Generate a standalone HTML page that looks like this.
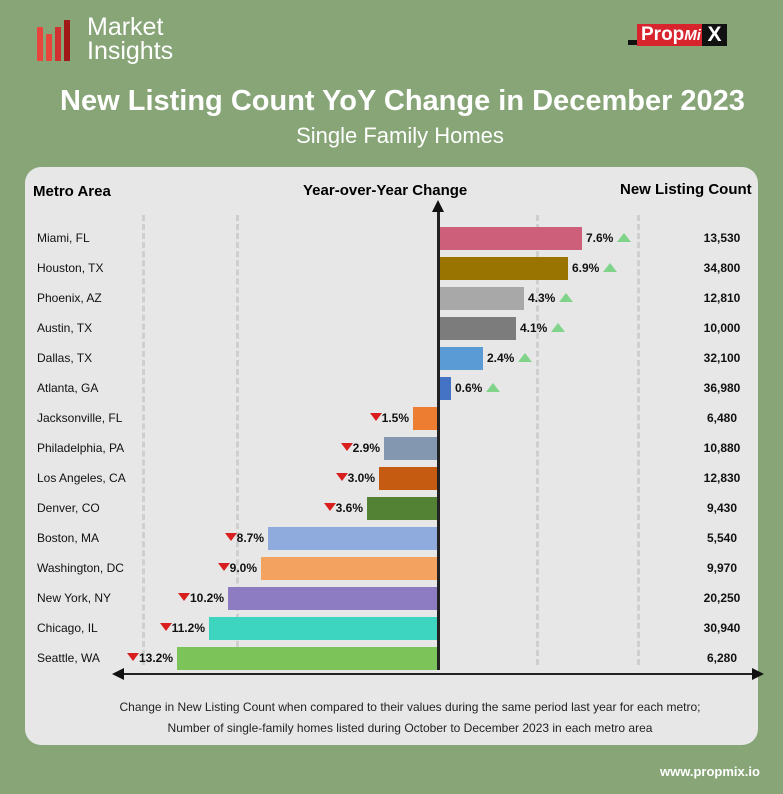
<!DOCTYPE html>
<html><head><meta charset="utf-8"><style>
*{margin:0;padding:0;box-sizing:border-box}
body{width:783px;height:794px;background:#88a577;font-family:"Liberation Sans",sans-serif;position:relative;overflow:hidden}
.a{position:absolute}
.panel{left:25px;top:167px;width:733px;height:578px;background:#e6e7e6;border-radius:16px}
.name{left:37px;font-size:12px;color:#111}
.cnt{left:692px;width:60px;text-align:center;font-size:12px;font-weight:bold;color:#111}
.bar{height:23px}
.pct{font-size:12px;font-weight:bold;color:#111}
.dash{width:0;border-left:3px dashed #cfcfcf}
</style></head><body>
<div class="a" style="left:37px;top:27px;width:6px;height:34px;background:#e8453c"></div>
<div class="a" style="left:46px;top:34px;width:6px;height:27px;background:#e8453c"></div>
<div class="a" style="left:55px;top:27px;width:6px;height:34px;background:#d03030"></div>
<div class="a" style="left:64px;top:20px;width:6px;height:41px;background:#a01818"></div>
<div class="a" style="left:87px;top:15px;font-size:25px;line-height:24px;color:#fff">Market<br>Insights</div>
<div class="a" style="left:628px;top:40px;width:12px;height:5px;background:#111"></div>
<div class="a" style="left:637px;top:24px;width:65px;height:22px;background:#d8242c;color:#fff;font-weight:bold;font-size:19px;line-height:22px;padding-left:4px">Prop<i style="font-size:15px">Mi</i></div>
<div class="a" style="left:702px;top:24px;width:25px;height:22px;background:#111;color:#fff;font-weight:bold;font-size:21px;line-height:22px;text-align:center">X</div>
<div class="a" style="left:0;top:85px;width:805px;text-align:center;font-size:29px;font-weight:bold;color:#fff">New Listing Count YoY Change in December 2023</div>
<div class="a" style="left:0;top:123px;width:800px;text-align:center;font-size:22px;color:#fff">Single Family Homes</div>
<div class="a panel"></div>
<div class="a dash" style="left:142px;top:215px;height:450px"></div>
<div class="a dash" style="left:236px;top:215px;height:450px"></div>
<div class="a dash" style="left:536px;top:215px;height:450px"></div>
<div class="a dash" style="left:637px;top:215px;height:450px"></div>
<div class="a" style="left:33px;top:183px;font-size:15px;font-weight:bold">Metro Area</div>
<div class="a" style="left:303px;top:182px;font-size:15px;font-weight:bold">Year-over-Year Change</div>
<div class="a" style="left:620px;top:181px;font-size:15px;font-weight:bold">New Listing Count</div>
<div class="a" style="left:437px;top:210px;width:3px;height:460px;background:#222"></div>
<div class="a" style="left:432px;top:200px;width:0;height:0;border-left:6px solid transparent;border-right:6px solid transparent;border-bottom:12px solid #111"></div>
<div class="a" style="left:120px;top:673px;width:634px;height:2px;background:#222"></div>
<div class="a" style="left:112px;top:668px;border-top:6px solid transparent;border-bottom:6px solid transparent;border-right:12px solid #111"></div>
<div class="a" style="left:752px;top:668px;border-top:6px solid transparent;border-bottom:6px solid transparent;border-left:12px solid #111"></div>
<div id="rows"></div>
<div class="a" style="left:25px;top:697px;width:770px;text-align:center;font-size:12px;line-height:21px;color:#222">Change in New Listing Count when compared to their values during the same period last year for each metro;<br>Number of single-family homes listed during October to December 2023 in each metro area</div>
<div class="a" style="left:660px;top:764px;font-size:13px;font-weight:bold;color:#fff">www.propmix.io</div>
<script>
var d=[["Miami, FL",582,"#cd5f7a","7.6%","13,530"],["Houston, TX",568,"#9a7400","6.9%","34,800"],["Phoenix, AZ",524,"#a8a8a8","4.3%","12,810"],["Austin, TX",516,"#7c7c7c","4.1%","10,000"],["Dallas, TX",483,"#5b9bd5","2.4%","32,100"],["Atlanta, GA",451,"#4472c4","0.6%","36,980"],["Jacksonville, FL",413,"#ed7d31","1.5%","6,480"],["Philadelphia, PA",384,"#8497b0","2.9%","10,880"],["Los Angeles, CA",379,"#c55a11","3.0%","12,830"],["Denver, CO",367,"#548235","3.6%","9,430"],["Boston, MA",268,"#8faadc","8.7%","5,540"],["Washington, DC",261,"#f4a25f","9.0%","9,970"],["New York, NY",228,"#8e7cc3","10.2%","20,250"],["Chicago, IL",209,"#3dd4c0","11.2%","30,940"],["Seattle, WA",177,"#7cc35a","13.2%","6,280"]];
var h="";d.forEach(function(r,i){var c=238+30*i,t=c-11;
h+='<div class="a name" style="top:'+(c-7)+'px">'+r[0]+'</div><div class="a cnt" style="top:'+(c-7)+'px">'+r[4]+'</div>';
if(i<6){h+='<div class="a bar" style="left:440px;top:'+t+'px;width:'+(r[1]-440)+'px;background:'+r[2]+'"></div><div class="a pct" style="left:'+(r[1]+4)+'px;top:'+(c-7)+'px">'+r[3]+' <span style="display:inline-block;width:0;height:0;border-left:7px solid transparent;border-right:7px solid transparent;border-bottom:9px solid #7fd48a;vertical-align:0"></span></div>';}
else{h+='<div class="a bar" style="left:'+r[1]+'px;top:'+t+'px;width:'+(437-r[1])+'px;background:'+r[2]+'"></div><div class="a pct" style="right:'+(783-r[1]+4)+'px;top:'+(c-7)+'px"><span style="display:inline-block;width:0;height:0;border-left:6px solid transparent;border-right:6px solid transparent;border-top:8px solid #d81e1e;vertical-align:1px"></span>'+r[3]+'</div>';}});
document.getElementById("rows").innerHTML=h;
</script>
</body></html>
